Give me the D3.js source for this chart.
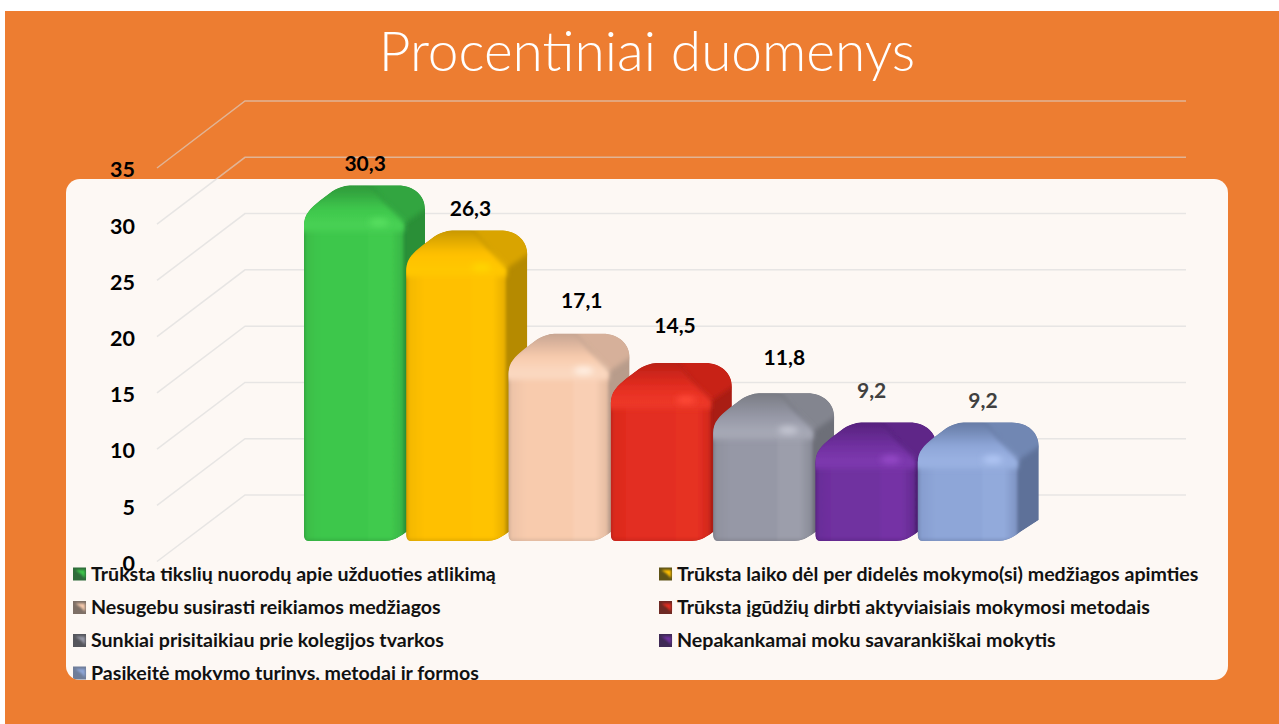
<!DOCTYPE html>
<html><head><meta charset="utf-8">
<script src="https://cdn.jsdelivr.net/npm/d3@7"></script>
<style>html,body{margin:0;padding:0;background:#fff;overflow:hidden}svg{display:block}text{font-family:Lato,Carlito,"Open Sans",sans-serif}</style>
</head><body><svg id="c" width="1279" height="724"></svg>
<script>
const titleText = "Procentiniai duomenys";
const categories = ["Trūksta tikslių nuorodų apie užduoties atlikimą","Trūksta laiko dėl per didelės mokymo(si) medžiagos apimties","Nesugebu susirasti reikiamos medžiagos","Trūksta įgūdžių dirbti aktyviaisiais mokymosi metodais","Sunkiai prisitaikiau prie kolegijos tvarkos","Nepakankamai moku savarankiškai mokytis","Pasikeitė mokymo turinys, metodai ir formos"];
const values = [30.3,26.3,17.1,14.5,11.8,9.2,9.2];
const yTicks = [0,5,10,15,20,25,30,35];
const frontColors = ["#3ec74c","#ffc000","#f8cbad","#e32d20","#9698a6","#7030a0","#8ea6d8"];
const sideColors = ["#2a8f37","#b58a00","#b89c8b","#a91d14","#6d6f78","#4b1d70","#5e7199"];
const topColors = ["#33a53f","#d9a400","#d6b09a","#c82419","#83858f","#5f2688","#7187b3"];
const lightColors = ["#58e060","#ffd500","#fff0e4","#ff4a38","#c4c6d2","#9548c8","#b0c6f4"];
const swatchFrames = ["#2f6b3a","#5f5316","#7d6f66","#6e2a24","#55565c","#3f2a55","#6f7d99"];
const labelDx = [0,3,12,3,10,-5,4];   // hand placed labels in the source slide
const labelDy = [-21,-21,-33,-37,-35,-32,-22];

const svg = d3.select("#c");
const defs = svg.append("defs");
const blur = (id,s)=>defs.append("filter").attr("id",id).attr("x","-30%").attr("y","-60%").attr("width","160%").attr("height","220%")
  .append("feGaussianBlur").attr("stdDeviation",s);
blur("soft",2.5); blur("edge",1.6); blur("glow",3); blur("tiny",.8);

svg.append("rect").attr("x",5).attr("y",11).attr("width",1274).attr("height",713).attr("fill","#ed7d31");
svg.append("text").attr("x",647).attr("y",71).attr("text-anchor","middle").attr("fill","#fff")
  .attr("font-size",55).attr("font-weight",300).text(titleText);

const panel = {x:66,y:179,w:1162,h:501,r:14};
svg.append("rect").attr("x",panel.x).attr("y",panel.y).attr("width",panel.w).attr("height",panel.h).attr("rx",panel.r).attr("fill","#fdf8f4");
defs.append("clipPath").attr("id","panelClip").append("rect").attr("x",panel.x).attr("y",panel.y).attr("width",panel.w).attr("height",panel.h).attr("rx",panel.r);

// walls
const yFront = d3.scaleLinear().domain([0,35]).range([561.5,168]);
const yBack = d3.scaleLinear().domain([0,35]).range([495,101]);
const wall = {front:157, back:245, right:1186};
const grid = svg.append("g").attr("fill","none").attr("stroke","#d9d9d9").attr("stroke-width",1.5).attr("stroke-opacity",.6);
grid.selectAll("path").data(yTicks).join("path")
  .attr("d",t=>`M${wall.front},${yFront(t)}L${wall.back},${yBack(t)}H${wall.right}`);

// axis
const axis = svg.append("g").attr("transform",`translate(135,1.5)`)
  .call(d3.axisLeft(yFront).tickValues(yTicks).tickSize(0).tickPadding(0).tickFormat(d3.format("d")));
axis.select(".domain").remove();
axis.selectAll("text").attr("font-size",21.5).attr("font-weight",700).attr("fill","#000").attr("dy","0.34em");
axis.attr("font-family",null);

// bars
const x = d3.scaleBand().domain(categories).range([304,304+102.3*7]).paddingInner(0).paddingOuter(0);
const yBar = d3.scaleLinear().domain([0,35]).range([541,147.6]);
const base = yBar(0);
const silhouette = (x0,T)=>`M${x0+5},${base}C${x0+1},${base} ${x0},${base-3} ${x0},${base-7}L${x0},${T+40}C${x0},${T+29} ${x0+6},${T+23} ${x0+16},${T+15}L${x0+28},${T+6}C${x0+36},${T+1} ${x0+42},${T} ${x0+48},${T}L${x0+94},${T}C${x0+110},${T} ${x0+121},${T+10} ${x0+121},${T+24}L${x0+121},${base-21}L${x0+101},${base-8}C${x0+94},${base-3} ${x0+88},${base} ${x0+80},${base}Z`;
categories.forEach((c,i)=>{
  const x0 = x(c), T = yBar(values[i])-15;
  const lit = k=>d3.interpolateRgb(frontColors[i],lightColors[i])(k);
  const g = defs.append("linearGradient").attr("id","front"+i);
  [[0,sideColors[i]],[.06,d3.interpolateRgb(sideColors[i],frontColors[i])(.85)],[.2,frontColors[i]],[.64,frontColors[i]],[.66,lit(.12)],[.86,lit(.12)],[.97,d3.interpolateRgb(sideColors[i],frontColors[i])(.7)],[1,sideColors[i]]]
    .forEach(([o,col])=>g.append("stop").attr("offset",o).attr("stop-color",col));
  const tg = defs.append("linearGradient").attr("id","top"+i).attr("x1",0).attr("x2",0).attr("y1",0).attr("y2",1);
  [[0,sideColors[i]],[.28,topColors[i]],[.58,frontColors[i]],[.85,lit(.35)],[1,lit(.3)]]
    .forEach(([o,col])=>tg.append("stop").attr("offset",o).attr("stop-color",col));
  defs.append("clipPath").attr("id","clip"+i).append("path").attr("d",silhouette(x0,T));
  const bar = svg.append("g").attr("clip-path",`url(#clip${i})`);
  bar.append("path").attr("d",silhouette(x0,T)).attr("fill",sideColors[i]);
  // right lobe of the top
  bar.append("path").attr("d",`M${x0+60},${T-8}H${x0+130}V${T+18}L${x0+100},${T+38}Z`).attr("fill",topColors[i]).attr("filter","url(#soft)");
  // front face
  bar.append("rect").attr("x",x0-3).attr("y",T+38).attr("width",104).attr("height",base-T-30).attr("fill",`url(#front${i})`).attr("filter","url(#tiny)");
  // top face, merging softly into the front
  bar.append("path").attr("d",`M${x0-6},${T+46}V${T+30}L${x0+40},${T-8}H${x0+62}L${x0+80},${T+16}L${x0+100},${T+36}V${T+46}Z`).attr("fill",`url(#top${i})`).attr("filter","url(#soft)");
  bar.append("ellipse").attr("cx",x0+75).attr("cy",T+37).attr("rx",10).attr("ry",4).attr("fill",lightColors[i]).attr("filter","url(#glow)");
  // bottom shading
  bar.append("rect").attr("x",x0-2).attr("y",base-2).attr("width",104).attr("height",4).attr("fill",sideColors[i]).attr("opacity",.35).attr("filter","url(#edge)");
});

// value labels
svg.append("g").selectAll("text").data(categories).join("text")
  .attr("x",(c,i)=>x(c)+x.bandwidth()/2+10+labelDx[i])
  .attr("y",(c,i)=>yBar(values[i])-15+labelDy[i]+7)
  .attr("text-anchor","middle").attr("font-size",21).attr("font-weight",700)
  .attr("fill",(c,i)=>i<5?"#000":"#404040")
  .text((c,i)=>String(values[i]).replace(".",","));

// legend
const legendCols = [73,659], legendRows = [574,607.5,640.5,673];
const legend = svg.append("g").attr("clip-path","url(#panelClip)");
const item = legend.selectAll("g").data(categories).join("g")
  .attr("transform",(c,i)=>`translate(${legendCols[i%2]},${legendRows[Math.floor(i/2)]})`);
item.append("rect").attr("x",0).attr("y",-6.5).attr("width",13).attr("height",13).attr("fill",(c,i)=>swatchFrames[i]);
item.append("path").attr("d","M2.5,-4H12V4L8,0Z").attr("fill",(c,i)=>frontColors[i]).attr("filter","url(#tiny)");
item.append("text").attr("x",18).attr("y",6.5).attr("font-size",19.6).attr("font-weight",700).attr("fill","#111").text(c=>c);
</script></body></html>
